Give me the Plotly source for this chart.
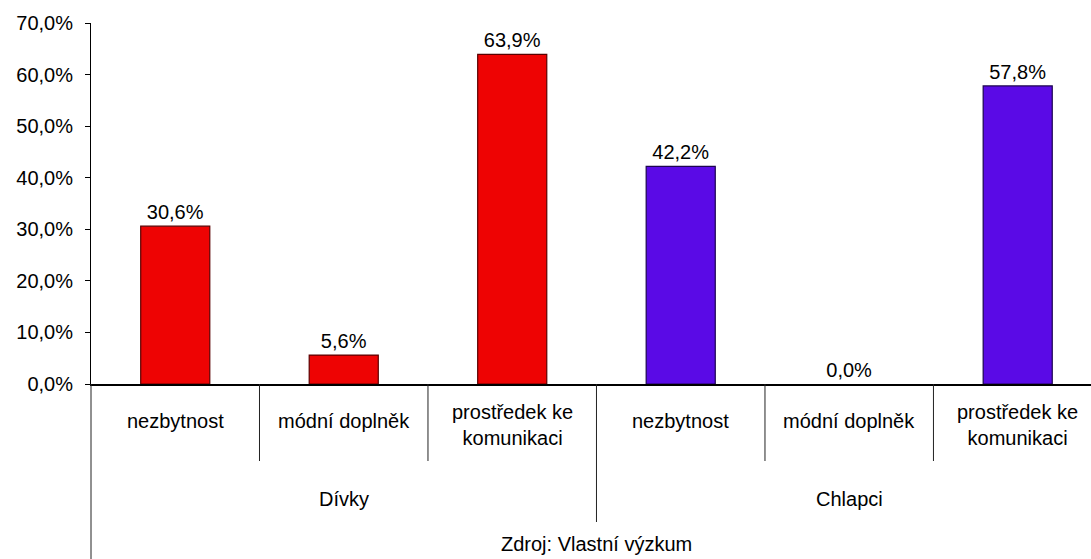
import plotly.graph_objects as go

# data
groups = ["Dívky", "Dívky", "Dívky", "Chlapci", "Chlapci", "Chlapci"]
categories = ["nezbytnost", "módní doplněk", "prostředek ke<br>komunikaci",
              "nezbytnost", "módní doplněk", "prostředek ke<br>komunikaci"]
values = [30.6, 5.6, 63.9, 42.2, 0.0, 57.8]
group_names = ["Dívky", "Chlapci"]
source_text = "Zdroj: Vlastní výzkum"
y_ticks = [0, 10, 20, 30, 40, 50, 60, 70]

colors = {"Dívky": "#EE0303", "Chlapci": "#5A0AE6"}
edges = {"Dívky": "#5A0000", "Chlapci": "#1C0450"}

W, H = 1091, 559
top, bottom = 23, 384  # plot area in pixels


def py(p):
    # pixel row -> paper coordinate
    return (bottom - p) / (bottom - top)


font = dict(family="Arial, 'Liberation Sans', sans-serif", size=20, color="#000000")

xs = list(range(len(values)))
labels = [f"{v:.1f}".replace(".", ",") + "%" for v in values]

fig = go.Figure()
fig.add_trace(go.Bar(
    x=xs, y=values,
    width=0.41,
    marker=dict(color=[colors[g] for g in groups],
                line=dict(color=[edges[g] if v > 0 else "rgba(0,0,0,0)"
                                 for g, v in zip(groups, values)], width=1.2)),
    text=labels, textposition="outside", cliponaxis=False,
    textfont=font,
))

# category labels (inner level)
for i, c in enumerate(categories):
    fig.add_annotation(x=i, y=py(425 if "<br>" in c else 421), xref="x", yref="paper",
                       text=c, showarrow=False, font=font, yanchor="middle")

# group labels
for k, g in enumerate(group_names):
    fig.add_annotation(x=3 * k + 1, y=py(499), xref="x", yref="paper",
                       text=g, showarrow=False, font=font, yanchor="middle")

fig.add_annotation(x=(len(values) - 1) / 2, y=py(544), xref="x", yref="paper",
                   text=source_text, showarrow=False, font=font, yanchor="middle")

# dividers between categories and groups
for i in range(len(values) - 1):
    long = groups[i] != groups[i + 1]
    fig.add_shape(type="line", xref="x", yref="paper", x0=i + 0.5, x1=i + 0.5,
                  y0=0, y1=py(522 if long else 461),
                  line=dict(color="#222222", width=1))
# y axis extension down through the label area
fig.add_shape(type="line", xref="paper", yref="paper", x0=0, x1=0, y0=0, y1=py(H),
              line=dict(color="#222222", width=1))

fig.update_layout(
    width=W, height=H,
    margin=dict(l=91, r=0, t=top, b=H - bottom),
    plot_bgcolor="white", paper_bgcolor="white",
    showlegend=False,
    font=font,
    xaxis=dict(range=[-0.5, 5.435], showticklabels=False, showgrid=False,
               zeroline=False, showline=True, linecolor="#000000", linewidth=2,
               ticks=""),
    yaxis=dict(range=[0, 70], tickvals=y_ticks,
               ticktext=[f"{t:.1f}".replace(".", ",") + "%" for t in y_ticks],
               showgrid=False, zeroline=False, showline=True, linecolor="#000000",
               linewidth=1, ticks="outside", ticklen=5, tickcolor="#000000",
               ticklabelstandoff=8, tickfont=font),
)

fig.write_html("out.html", config={"displayModeBar": False},
               post_script="document.body.style.margin='0px';")
